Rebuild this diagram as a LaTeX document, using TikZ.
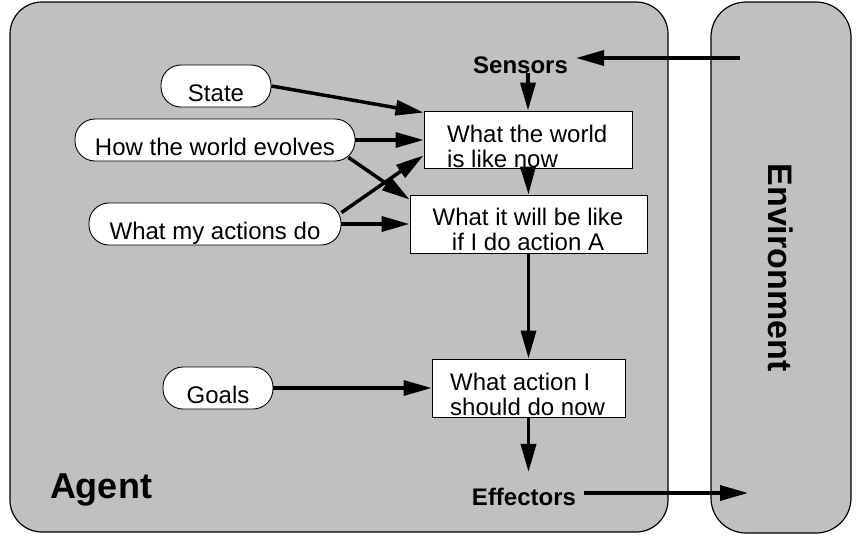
\documentclass[tikz,border=0pt]{standalone}
\usepackage{fontspec}
\setmainfont{Liberation Sans}
\usetikzlibrary{arrows.meta}
\definecolor{gris}{RGB}{192,192,192}

\begin{document}
\begin{tikzpicture}[x=1pt,y=-1pt]
\tikzstyle{fleche}=[-{Triangle[length=28pt,width=15pt]},line width=3.5pt]
\tikzset{fond/.style={draw,line width=1.2pt,fill=gris,inner sep=0pt},
bulle/.style={draw,line width=0.9pt,fill=white,rounded corners=20pt,minimum height=42pt,
  inner sep=0pt,text height=30pt,text depth=0pt,font=\fontsize{24}{25}\selectfont},
boite/.style={draw,line width=0.9pt,fill=white,inner sep=0pt},
texte/.style={inner sep=0pt,font=\fontsize{24}{25}\selectfont},
etiquette/.style={inner xsep=8pt,inner ysep=4pt,font=\bfseries\fontsize{24}{25}\selectfont}}
\useasboundingbox (0,0) rectangle (862,536);

\node[fond,rounded corners=32pt,minimum width=658pt,minimum height=530pt] (agent) at (339,267) {};
\node[fond,rounded corners=35pt,rotate=-90,minimum width=531pt,minimum height=140pt,
  font=\bfseries\fontsize{34}{36}\selectfont] (env) at (781,267.5) {Environment};
\node[inner sep=0pt,font=\bfseries\fontsize{36}{38}\selectfont] (nomagent) at (101,490) {Agent};

\node[bulle,minimum width=110pt] (etat) at (216,86) {State};
\node[bulle,minimum width=280pt] (evolue) at (215,140) {How the world evolves};
\node[bulle,minimum width=252pt] (actions) at (215,224) {What my actions do};
\node[bulle,minimum width=110pt] (buts) at (218,388) {Goals};

\node[boite,minimum width=208pt,minimum height=57pt] (now) at (528,139.5) {};
\node[boite,minimum width=237pt,minimum height=58pt] (futur) at (528.5,224) {};
\node[boite,minimum width=193pt,minimum height=58pt] (action) at (528.5,388) {};
\node[texte,align=left,anchor=north west] (nowtxt) at (447,125) {What the world\\is like now};
\node[texte,align=center,anchor=north] (futurtxt) at (528,207.5) {What it will be like\\if I do action A};
\node[texte,align=left,anchor=north west] (actiontxt) at (450,372.5) {What action I\\should do now};

\node[etiquette] (capteurs) at (520.5,65) {Sensors};
\node[etiquette] (effecteurs) at (524,497) {Effectors};
\coordinate (envin) at (740,58);
\coordinate (envout) at (748,493);

\draw[fleche] (envin) -- (envin -| capteurs.east);
\draw[fleche] (capteurs.base -| now.north) -- (now.north);
\draw[fleche] (etat.east) -- ([yshift=-2pt]now.north west);
\draw[fleche] (evolue.east) -- (evolue.east -| now.west);
\draw[fleche] ([xshift=-7pt,yshift=4pt]evolue.south east) -- ([yshift=-5pt]futur.north west);
\draw[fleche] ([yshift=-10pt]actions.north east) -- ([yshift=13pt]now.south west);
\draw[fleche] (actions.east) -- (actions.east -| futur.west);
\draw[fleche] (now.south) -- (futur.north);
\draw[fleche] (futur.south) -- (action.north);
\draw[fleche] (buts.east) -- (buts.east -| action.west);
\draw[fleche] (action.south) -- ([yshift=12pt]action.south |- effecteurs.north);
\draw[fleche] (effecteurs.east |- envout) -- (envout);

\end{tikzpicture}
\end{document}
